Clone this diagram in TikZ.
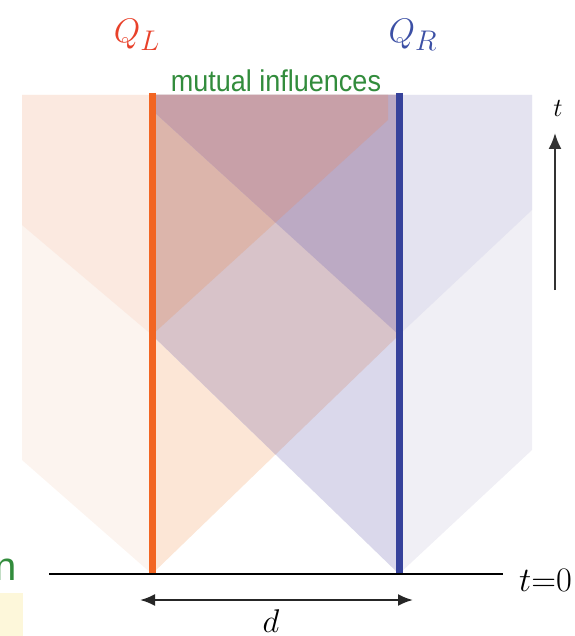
\documentclass[tikz,border=0pt]{standalone}
\usepackage{fontspec}
\usepackage{graphicx}
\usetikzlibrary{arrows.meta}
\newfontfamily\labelsans{Liberation Sans}
\definecolor{lstripA}{HTML}{FCF4EF}
\definecolor{lstripB}{HTML}{FBE9E0}
\definecolor{rstripA}{HTML}{F0EFF5}
\definecolor{rstripB}{HTML}{E4E3F0}
\definecolor{linner}{HTML}{FCE6D6}
\definecolor{rinner}{HTML}{DAD8EB}
\definecolor{lrboth}{HTML}{D8C3C9}
\definecolor{lrleft}{HTML}{DCB5AB}
\definecolor{lrright}{HTML}{BCAAC4}
\definecolor{lrall}{HTML}{C8A0A8}
\definecolor{qlline}{HTML}{F26522}
\definecolor{qrline}{HTML}{36429B}
\definecolor{qltext}{HTML}{E8412A}
\definecolor{qrtext}{HTML}{3C50A5}
\definecolor{mgreen}{HTML}{328C3C}
\definecolor{paleyellow}{HTML}{FDF7DA}
\begin{document}
\begin{tikzpicture}[x=1pt,y=-1pt,
  qubitline/.style={line width=7pt},
  axisline/.style={line width=1.5pt, black},
  darr/.style={line width=2.2pt, draw=black!85, {Latex[length=15pt,width=12pt]}-{Latex[length=15pt,width=12pt]}},
  tarr/.style={line width=2pt, draw=black!80, -{Latex[length=16pt,width=13pt]}},
  lab/.style={inner sep=0pt, font=\Huge}]
\useasboundingbox (0,0) rectangle (574,636);
% outer strips
\fill[lstripA] (152,574) -- (22,460) -- (22,95) -- (152,95) -- cycle;
\fill[lstripB] (152,335) -- (22,225) -- (22,95) -- (152,95) -- cycle;
\fill[rstripA] (399,574) -- (532,450) -- (532,95) -- (399,95) -- cycle;
\fill[rstripB] (399,335) -- (532,210) -- (532,95) -- (399,95) -- cycle;
% inner regions
\fill[linner] (152,574) -- (399,335) -- (399,95) -- (152,95) -- cycle;
\fill[rinner] (399,574) -- (152,335) -- (152,95) -- (399,95) -- cycle;
\fill[lrboth] (275.5,454.5) -- (399,335) -- (399,95) -- (152,95) -- (152,335) -- cycle;
\fill[lrleft] (152,335) -- (399,110) -- (399,95) -- (152,95) -- cycle;
\fill[lrright] (399,335) -- (152,110) -- (152,95) -- (399,95) -- cycle;
\fill[lrall] (152,110) -- (275.5,222.5) -- (388,120) -- (388,95) -- (152,95) -- cycle;
% bottom-left fragments
\fill[paleyellow] (-5,593) rectangle (23,640);
\node[inner sep=0pt, anchor=base east, text=mgreen, font=\labelsans\fontsize{40}{40}\selectfont] (frag) at (17,580) {n};
% qubit world lines
\coordinate (qlTop) at (152,93);
\coordinate (qlBot) at (152,574);
\coordinate (qrTop) at (399,93);
\coordinate (qrBot) at (399,574);
\draw[qubitline, qlline] (qlTop) -- (qlBot);
\draw[qubitline, qrline] (qrTop) -- (qrBot);
% axis
\coordinate (axL) at (49,574);
\coordinate (axR) at (503,574);
\draw[axisline] (axL) -- (axR);
% distance arrow
\coordinate (dL) at (140,600);
\coordinate (dR) at (413,600);
\draw[darr] (dL) -- (dR);
% time arrow
\coordinate (tB) at (555,290);
\coordinate (tT) at (555,133);
\draw[tarr] (tB) -- (tT);
% labels
\node[lab, text=qltext, anchor=base] (QL) at (137,43) {\scalebox{1.37}{$Q_L$}};
\node[lab, text=qrtext, anchor=base] (QR) at (413,43) {\scalebox{1.37}{$Q_R$}};
\node[inner sep=0pt, anchor=base, text=mgreen, font=\labelsans\fontsize{30}{30}\selectfont] (mut) at (276,92) {\scalebox{0.9}[1]{mutual influences}};
\node[lab, anchor=base] (tlab) at (558,117) {\scalebox{1.05}{$t$}};
\node[lab, anchor=base west] (t0) at (519,591) {\scalebox{1.38}{$t{=}0$}};
\node[lab, anchor=base] (dlab) at (271,632) {\scalebox{1.32}{$d$}};
\end{tikzpicture}
\end{document}
